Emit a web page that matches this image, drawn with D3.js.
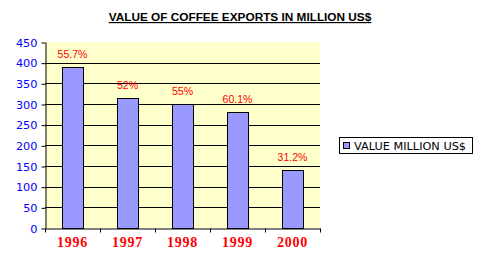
<!DOCTYPE html>
<html>
<head>
<meta charset="utf-8">
<script src="https://cdn.jsdelivr.net/npm/d3@7"></script>
<style>
  body { margin: 0; background: #fff; }
  svg { display: block; }
</style>
</head>
<body>
<div class="chart"></div>
<script>
var years = ['1996', '1997', '1998', '1999', '2000'];
var values = [390, 315, 300, 280, 140];
var shares = ['55.7%', '52%', '55%', '60.1%', '31.2%'];
var yTicks = [0, 50, 100, 150, 200, 250, 300, 350, 400, 450];
var seriesName = 'VALUE MILLION US$';
var title = 'VALUE OF COFFEE EXPORTS IN MILLION US$';

var W = 483, H = 258;
var plot = { left: 45, right: 320, top: 42, bottom: 228 };

var svg = d3.select('.chart')
    .append('svg')
    .attr('width', W)
    .attr('height', H);

var x = d3.scaleBand()
    .domain(years)
    .range([plot.left, plot.right])
    .paddingInner(0.62)
    .paddingOuter(0.31);

var y = d3.scaleLinear()
    .domain([0, 450])
    .range([plot.bottom, plot.top]);

// plot background
svg.append('rect')
    .attr('x', plot.left)
    .attr('y', plot.top)
    .attr('width', plot.right - plot.left)
    .attr('height', plot.bottom - plot.top)
    .attr('fill', '#FFFFCC');

// gridlines
svg.append('g')
    .selectAll('line')
    .data(yTicks.filter(function(d) { return d > 0 && d < 450; }))
    .enter().append('line')
    .attr('x1', plot.left)
    .attr('x2', plot.right)
    .attr('y1', function(d) { return Math.round(y(d)) + 0.5; })
    .attr('y2', function(d) { return Math.round(y(d)) + 0.5; })
    .attr('stroke', '#000')
    .attr('stroke-width', 1);

// bars
svg.append('g')
    .selectAll('rect')
    .data(values)
    .enter().append('rect')
    .attr('x', function(d, i) { return Math.round(x(years[i])) + 0.5; })
    .attr('y', function(d) { return Math.round(y(d)) + 0.5; })
    .attr('width', Math.round(x.bandwidth()))
    .attr('height', function(d) { return Math.round(y(0)) - Math.round(y(d)); })
    .attr('fill', '#9999FF')
    .attr('stroke', '#000')
    .attr('stroke-width', 1);

// share labels
svg.append('g')
    .selectAll('text')
    .data(values)
    .enter().append('text')
    .attr('x', function(d, i) { return x(years[i]) + x.bandwidth() / 2; })
    .attr('y', function(d) { return y(d) - 9; })
    .attr('text-anchor', 'middle')
    .attr('font-family', 'Liberation Sans, Arial, sans-serif')
    .attr('font-size', 10.5)
    .attr('fill', '#FF0000')
    .text(function(d, i) { return shares[i]; });

// y axis
var yAxis = svg.append('g')
    .attr('transform', 'translate(' + (plot.left + 0.5) + ',0)')
    .call(d3.axisLeft(y).tickValues(yTicks).tickSize(4).tickSizeOuter(0));
yAxis.select('.domain').attr('stroke', '#000');
yAxis.selectAll('.tick line').attr('stroke', '#000')
    .attr('transform', 'translate(0,0.5)');
yAxis.selectAll('.tick text')
    .attr('fill', '#0000FF')
    .attr('font-family', 'DejaVu Sans, Verdana, sans-serif')
    .attr('font-size', 11.3)
    .attr('x', -8)
    .attr('dy', '0.36em');

// x axis
var xAxis = svg.append('g')
    .attr('transform', 'translate(0,' + (plot.bottom + 0.5) + ')')
    .call(d3.axisBottom(x).tickSize(0).tickSizeOuter(0));
xAxis.select('.domain').attr('stroke', '#000');
xAxis.selectAll('.tick text')
    .attr('fill', '#FF0000')
    .attr('font-family', 'Liberation Serif, Times New Roman, serif')
    .attr('font-weight', 'bold')
    .attr('font-size', 14)
    .attr('letter-spacing', 0.8)
    .attr('y', 18)
    .attr('dy', 0);

// category separator ticks
var step = x.step();
xAxis.append('g')
    .selectAll('line')
    .data(d3.range(years.length + 1))
    .enter().append('line')
    .attr('x1', function(i) { return Math.round(plot.left + i * step) + 0.5; })
    .attr('x2', function(i) { return Math.round(plot.left + i * step) + 0.5; })
    .attr('y1', 0)
    .attr('y2', 4)
    .attr('stroke', '#000');

// title
svg.append('text')
    .attr('x', 240)
    .attr('y', 21)
    .attr('text-anchor', 'middle')
    .attr('font-family', 'Liberation Sans, Arial, sans-serif')
    .attr('font-weight', 'bold')
    .attr('font-size', 11.8)
    .attr('text-decoration', 'underline')
    .attr('fill', '#000')
    .text(title);

// legend
var legend = svg.append('g');
legend.append('rect')
    .attr('x', 339.5)
    .attr('y', 137.5)
    .attr('width', 133)
    .attr('height', 16)
    .attr('fill', '#fff')
    .attr('stroke', '#000');
legend.append('rect')
    .attr('x', 343.5)
    .attr('y', 142.5)
    .attr('width', 6)
    .attr('height', 6)
    .attr('fill', '#9999FF')
    .attr('stroke', '#000');
legend.append('text')
    .attr('x', 354)
    .attr('y', 149.5)
    .attr('font-family', 'DejaVu Sans, Verdana, sans-serif')
    .attr('font-size', 11.3)
    .attr('fill', '#000')
    .text(seriesName);
</script>
</body>
</html>
